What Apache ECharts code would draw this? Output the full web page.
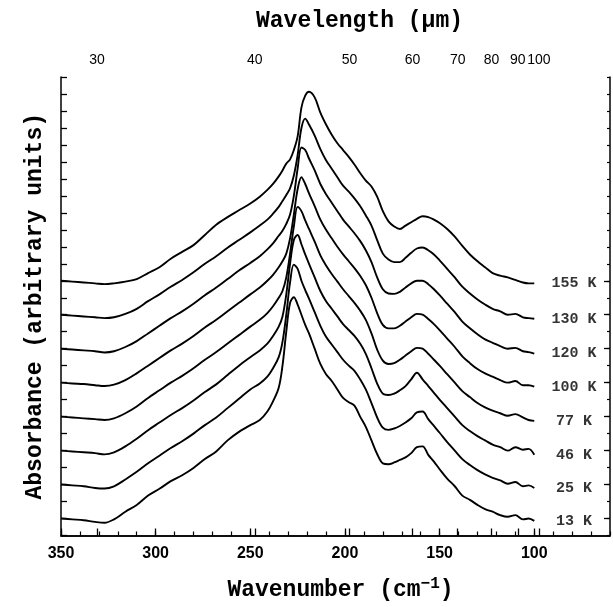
<!DOCTYPE html>
<html>
<head>
<meta charset="utf-8">
<script src="https://cdn.jsdelivr.net/npm/echarts@6/dist/echarts.min.js"></script>
<style>
html,body{margin:0;padding:0;background:#fff;}
#chart{width:613px;height:607px;}
</style>
</head>
<body>
<div id="chart"></div>
<script>
// Wavenumber sample grid (cm^-1)
const wavenumber = [350,344,338,332,327,322,316,310,304,298,292,286,280,274,268,262,256,250,245,241,
  238,235,233,231,229,227,225,223,221,219,216,213,210,207,204,201,198,195,192,189,
  186,183,180,177,174,171,168,165,162,159,156,153,150,146,142,138,134,130,126,122,
  118,114,110,106,103,100];

const temperatures = ['13 K','25 K','46 K','77 K','100 K','120 K','130 K','155 K'];
const baselineOffset = [1,3,5,7,9,11,13,15];

// absorbance above each trace's baseline (arbitrary units)
const abs13K = [0.0,-0.05,-0.1,-0.2,-0.25,-0.05,0.4,0.8,1.35,1.75,2.2,2.55,2.98,3.5,3.95,4.6,5.1,5.5,5.8,6.3,
  6.9,7.7,9.0,11.0,12.7,13.03,12.6,12.0,11.4,10.9,10.0,9.1,8.5,8.1,7.6,7.1,6.85,6.65,6.0,5.4,
  4.6,3.8,3.25,3.2,3.3,3.45,3.6,3.85,4.2,4.25,3.75,3.35,2.9,2.35,1.9,1.35,1.1,0.8,0.55,0.4,
  0.2,0.1,0.2,-0.05,0.0,-0.14];
const abs25K = [0.0,-0.05,-0.1,-0.2,-0.23,-0.1,0.3,0.75,1.25,1.7,2.15,2.55,3.0,3.5,3.95,4.5,5.05,5.6,5.95,6.35,
  6.85,7.5,8.4,10.0,11.9,12.95,12.7,12.0,11.45,10.95,10.15,9.35,8.7,8.25,7.8,7.35,7.0,6.7,6.2,5.6,
  4.8,3.95,3.35,3.22,3.3,3.45,3.65,3.9,4.25,4.3,3.85,3.45,3.05,2.5,2.0,1.5,1.15,0.85,0.6,0.4,
  0.25,0.05,0.15,-0.1,-0.05,-0.2];
const abs46K = [0.0,-0.05,-0.1,-0.15,-0.22,-0.1,0.25,0.7,1.2,1.65,2.1,2.5,2.95,3.45,3.9,4.45,5.0,5.5,5.9,6.3,
  6.75,7.3,7.9,9.2,11.0,12.4,12.7,12.15,11.55,11.0,10.2,9.4,8.8,8.35,7.9,7.45,7.1,6.75,6.3,5.7,
  4.85,3.95,3.35,3.27,3.35,3.55,3.8,4.2,4.58,4.2,3.8,3.4,3.0,2.5,2.0,1.5,1.15,0.85,0.6,0.35,
  0.2,0.0,0.2,0.05,0.1,-0.25];
const abs77K = [0.0,-0.05,-0.1,-0.15,-0.2,-0.1,0.2,0.6,1.1,1.55,2.0,2.4,2.85,3.35,3.8,4.3,4.8,5.3,5.7,6.1,
  6.5,7.0,7.4,8.2,9.6,11.2,12.35,12.1,11.55,11.05,10.3,9.5,8.9,8.4,7.95,7.5,7.1,6.7,6.25,5.7,
  4.9,3.95,3.3,3.1,3.15,3.35,3.6,3.85,4.05,4.0,3.7,3.35,3.0,2.5,2.0,1.5,1.15,0.8,0.55,0.35,
  0.2,0.05,0.15,-0.05,-0.2,-0.25];
const abs100K = [0.0,-0.05,-0.08,-0.15,-0.2,-0.12,0.15,0.55,1.0,1.45,1.9,2.3,2.75,3.25,3.7,4.2,4.7,5.2,5.6,6.0,
  6.35,6.8,7.15,7.6,8.5,9.9,11.4,12.1,11.7,11.15,10.4,9.6,9.0,8.5,8.0,7.55,7.15,6.75,6.3,5.75,
  5.0,4.1,3.4,3.2,3.2,3.35,3.6,3.85,4.05,4.0,3.75,3.45,3.1,2.6,2.1,1.55,1.15,0.8,0.55,0.35,
  0.15,0.0,0.1,-0.15,-0.15,-0.24];
const abs120K = [0.0,-0.05,-0.1,-0.15,-0.22,-0.15,0.1,0.45,0.9,1.35,1.8,2.2,2.65,3.15,3.6,4.1,4.6,5.05,5.45,5.85,
  6.2,6.65,6.95,7.35,7.9,9.0,10.6,11.85,11.7,11.2,10.5,9.7,9.1,8.6,8.1,7.6,7.2,6.8,6.35,5.8,
  5.1,4.2,3.5,3.25,3.23,3.35,3.6,3.85,4.0,4.0,3.8,3.5,3.15,2.65,2.15,1.6,1.2,0.85,0.55,0.35,
  0.15,0.0,0.05,-0.15,-0.2,-0.29];
const abs130K = [0.0,-0.05,-0.1,-0.15,-0.2,-0.15,0.05,0.35,0.8,1.2,1.65,2.05,2.5,3.0,3.45,3.95,4.4,4.85,5.25,5.6,
  5.95,6.35,6.7,7.05,7.45,8.2,9.4,11.0,11.55,11.2,10.55,9.75,9.1,8.6,8.1,7.6,7.25,6.85,6.4,5.85,
  5.25,4.4,3.6,3.25,3.1,3.1,3.35,3.65,3.9,3.96,3.8,3.55,3.2,2.7,2.2,1.65,1.25,0.9,0.6,0.35,
  0.2,0.0,0.05,-0.15,-0.2,-0.24];
const abs155K = [0.0,-0.05,-0.1,-0.15,-0.2,-0.15,-0.05,0.1,0.45,0.8,1.3,1.7,2.1,2.7,3.3,3.75,4.15,4.55,4.95,5.35,
  5.7,6.15,6.5,6.9,7.15,7.7,8.5,10.2,10.9,11.13,10.8,9.9,9.2,8.6,8.1,7.7,7.3,6.85,6.35,5.9,
  5.55,4.95,4.1,3.5,3.2,3.05,3.25,3.45,3.65,3.8,3.75,3.6,3.4,3.05,2.6,2.05,1.55,1.15,0.8,0.45,
  0.3,0.2,0.05,-0.1,-0.15,-0.15];

const spectra = [abs13K, abs25K, abs46K, abs77K, abs100K, abs120K, abs130K, abs155K];

// wavenumber tick labels (bottom) and wavelength tick labels (top, micrometres)
const wavenumberTicks = [350,300,250,200,150,100];
const wavelengthTicks = [30,40,50,60,70,80,90,100];

const labelX = 79; // wavenumber at which the temperature labels sit

const monoFont = '"Liberation Mono", "DejaVu Sans Mono", monospace';
const sansFont = '"Liberation Sans", Arial, sans-serif';

const series = spectra.map((arr, k) => ({
  name: temperatures[k],
  type: 'line',
  xAxisIndex: 0,
  yAxisIndex: 0,
  showSymbol: false,
  smooth: 0.35,
  lineStyle: { color: '#000', width: 1.9 },
  data: wavenumber.map((w, i) => [w, arr[i] + baselineOffset[k]])
}));

series.push({
  type: 'scatter',
  xAxisIndex: 0,
  yAxisIndex: 0,
  symbolSize: 0,
  silent: true,
  label: {
    show: true,
    position: 'inside',
    formatter: p => p.name,
    color: '#000',
    fontFamily: monoFont,
    fontWeight: 'bold',
    fontSize: 15
  },
  data: spectra.map((arr, k) => ({ name: temperatures[k], value: [labelX, arr[arr.length - 1] + baselineOffset[k]] }))
});

const axisLineStyle = { show: true, lineStyle: { color: '#000', width: 1.5 } };

const option = {
  animation: false,
  backgroundColor: '#fff',
  grid: { left: 61, right: 3, top: 77, bottom: 69, containLabel: false },
  xAxis: [
    {
      type: 'value', position: 'bottom', min: 60, max: 350, inverse: true, interval: 10,
      axisLine: axisLineStyle,
      axisTick: { show: true, inside: true, length: 4, lineStyle: { color: '#000', width: 1.2 } },
      axisLabel: { show: false },
      splitLine: { show: false }
    },
    {
      type: 'value', position: 'bottom', min: 60, max: 350, inverse: true,
      axisLine: { show: false },
      axisTick: { show: true, inside: true, length: 7, customValues: wavenumberTicks, lineStyle: { color: '#000', width: 1.3 } },
      axisLabel: { show: true, customValues: wavenumberTicks, margin: 10, color: '#000', fontFamily: sansFont, fontWeight: 'bold', fontSize: 16 },
      splitLine: { show: false },
      name: 'Wavenumber (cm{sup|−1})',
      nameLocation: 'middle',
      nameGap: 40,
      nameTextStyle: {
        color: '#000', fontFamily: monoFont, fontWeight: 'bold', fontSize: 23, padding: [0, 0, 0, 10],
        rich: { sup: { fontFamily: monoFont, fontWeight: 'bold', fontSize: 16, verticalAlign: 'top', padding: [0, 0, 14, 0], color: '#000' } }
      }
    },
    {
      type: 'value', position: 'top', min: 62.4, max: 352.4, inverse: true,
      axisLine: axisLineStyle,
      axisTick: { show: true, inside: false, length: 7, customValues: wavelengthTicks.map(l => 1e4 / l), lineStyle: { color: '#000', width: 1.3 } },
      axisLabel: { show: true, customValues: wavelengthTicks.map(l => 1e4 / l), margin: 10, color: '#000', fontFamily: sansFont, fontSize: 14,
        hideOverlap: false, formatter: v => String(Math.round(1e4 / v)) },
      splitLine: { show: false },
      name: 'Wavelength (μm)',
      nameLocation: 'middle',
      nameGap: 44,
      nameTextStyle: { color: '#000', fontFamily: monoFont, fontWeight: 'bold', fontSize: 23, padding: [0, 0, 0, 48] }
    }
  ],
  yAxis: [
    {
      type: 'value', position: 'left', min: 0, max: 27, interval: 1,
      axisLine: axisLineStyle,
      axisTick: { show: true, inside: true, length: 6, lineStyle: { color: '#000', width: 1.3 } },
      axisLabel: { show: false },
      splitLine: { show: false },
      name: 'Absorbance (arbitrary units)',
      nameLocation: 'middle',
      nameRotate: 90,
      nameGap: 14,
      nameTextStyle: { color: '#000', fontFamily: monoFont, fontWeight: 'bold', fontSize: 23 }
    },
    {
      type: 'value', position: 'right', min: 0, max: 27, interval: 1,
      axisLine: axisLineStyle,
      axisTick: { show: true, inside: true, length: 3, lineStyle: { color: '#000', width: 1.2 } },
      axisLabel: { show: false },
      splitLine: { show: false }
    },
    {
      type: 'value', position: 'right', min: 0, max: 27,
      axisLine: { show: false },
      axisTick: { show: true, inside: true, length: 6, customValues: baselineOffset, lineStyle: { color: '#000', width: 1.3 } },
      axisLabel: { show: false },
      splitLine: { show: false }
    }
  ],
  series: series
};

const chart = echarts.init(document.getElementById('chart'), null, { renderer: 'canvas' });
chart.setOption(option);
</script>
</body>
</html>
